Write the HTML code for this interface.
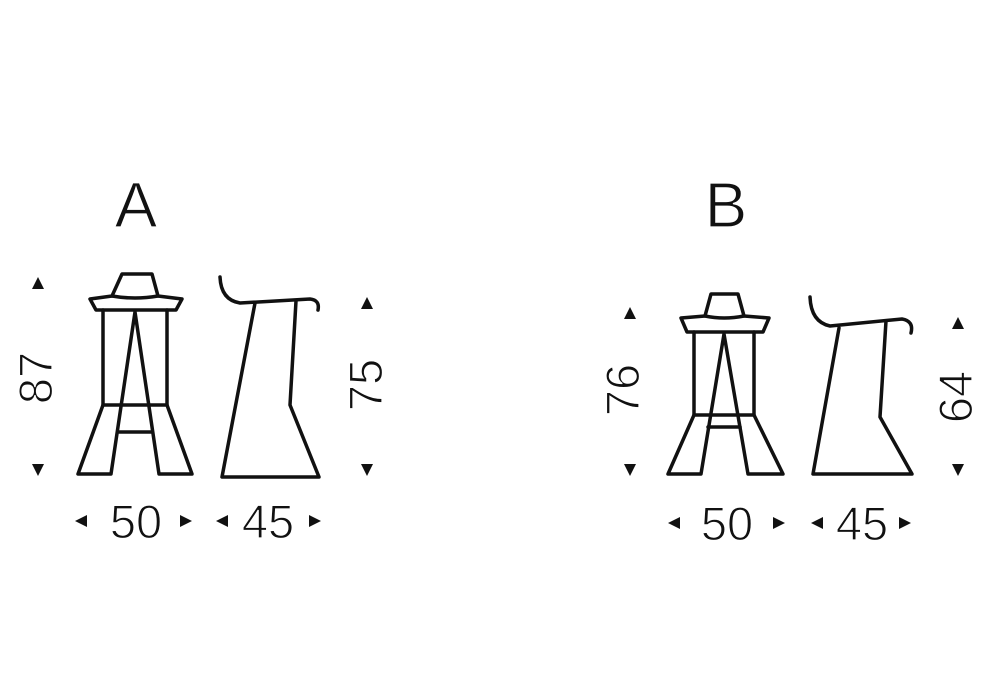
<!DOCTYPE html>
<html><head><meta charset="utf-8"><style>
html,body{margin:0;padding:0;background:#fff;}
svg{display:block}
text{font-family:"Liberation Sans",sans-serif;fill:#111;stroke:#fff;stroke-width:1.2px;}
</style></head><body>
<svg width="1000" height="700" viewBox="0 0 1000 700" xmlns="http://www.w3.org/2000/svg">
<g fill="none" stroke="#111" stroke-width="3.5" stroke-linejoin="round" stroke-linecap="round">
<!-- A front -->
<path d="M122,274 L152,274 L158,296 L182,299 L176,310 L96,310 L90,299 L112,296 Z"/>
<path d="M112,296 Q135,300 158,296"/>
<path d="M103,310 L103,405 L167,405 L167,310"/>
<path d="M103,405 L78,474 L111,474 L135,312 L159,474 L192,474 L167,405"/>
<path d="M119,432 L151,432"/>
<!-- A side -->
<path d="M220,277 Q221,300 240,303 L310,299 Q320,300 318,310"/>
<path d="M255,303 L222,477 L319,477 L290,405 L296,301"/>
<!-- B front -->
<path d="M711,294 L738,294 L744,316 L769,318 L763,332 L687,332 L681,318 L705,316 Z"/>
<path d="M705,316 Q724,320 744,316"/>
<path d="M694,332 L694,415 L754,415 L754,332"/>
<path d="M694,415 L668,474 L701,474 L724,334 L748,474 L783,474 L754,415"/>
<path d="M708,427 L740,427"/>
<!-- B side -->
<path d="M810,297 Q811,322 830,326 L902,319 Q914,321 911,333"/>
<path d="M839,328 L813,474 L912,474 L880,417 L886,321"/>
</g>
<g fill="#111">
<!-- A arrows -->
<path d="M32,289 L44,289 L38,277 Z"/><path d="M32,464 L44,464 L38,476 Z"/>
<path d="M361,309 L373,309 L367,297 Z"/><path d="M361,464 L373,464 L367,476 Z"/>
<path d="M87,515 L87,527 L75,521 Z"/><path d="M180,515 L180,527 L192,521 Z"/>
<path d="M228,515 L228,527 L216,521 Z"/><path d="M309,515 L309,527 L321,521 Z"/>
<!-- B arrows -->
<path d="M624,319 L636,319 L630,307 Z"/><path d="M624,464 L636,464 L630,476 Z"/>
<path d="M952,329 L964,329 L958,317 Z"/><path d="M952,464 L964,464 L958,476 Z"/>
<path d="M680,517 L680,529 L668,523 Z"/><path d="M773,517 L773,529 L785,523 Z"/>
<path d="M823,517 L823,529 L811,523 Z"/><path d="M899,517 L899,529 L911,523 Z"/>
</g>
<text x="136" y="227" font-size="64" text-anchor="middle">A</text>
<text x="726" y="227" font-size="64" text-anchor="middle">B</text>
<g font-size="47" text-anchor="middle">
<text x="136" y="538">50</text>
<text x="268" y="538">45</text>
<text x="727" y="540">50</text>
<text x="862" y="540">45</text>
<text transform="translate(52,378) rotate(-90)">87</text>
<text transform="translate(382,385) rotate(-90)">75</text>
<text transform="translate(639,390) rotate(-90)">76</text>
<text transform="translate(972,397) rotate(-90)">64</text>
</g>
</svg>
</body></html>
